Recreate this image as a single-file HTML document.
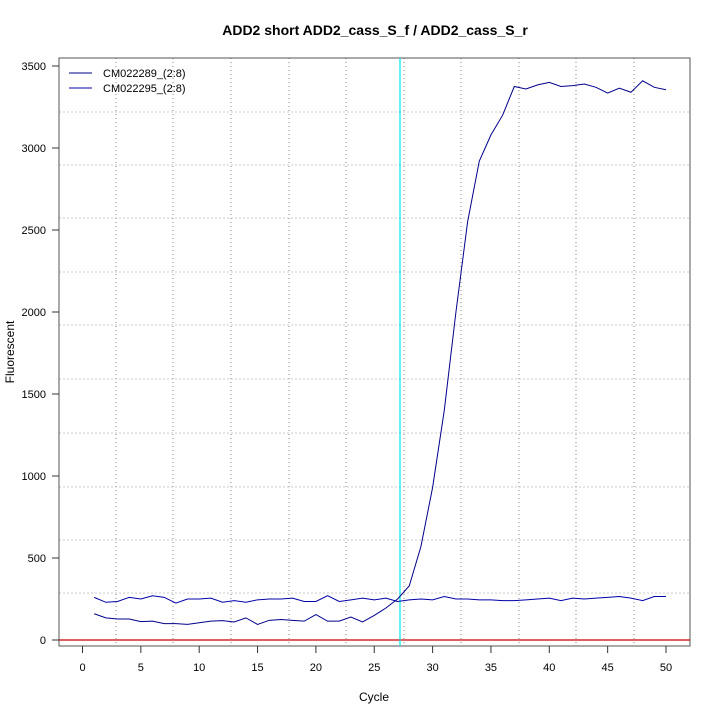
<!DOCTYPE html>
<html><head><meta charset="utf-8"><style>
body{margin:0;background:#fff}
svg text{font-family:"Liberation Sans",sans-serif;fill:#000}
</style></head><body>
<svg id="s" width="720" height="720" xmlns="http://www.w3.org/2000/svg">
<rect width="720" height="720" fill="#fff"/>
<text x="375" y="35" font-size="14" font-weight="bold" text-anchor="middle">ADD2 short ADD2_cass_S_f / ADD2_cass_S_r</text>
<text x="374" y="701" font-size="12" text-anchor="middle">Cycle</text>
<text x="14" y="352" font-size="12" text-anchor="middle" transform="rotate(-90 14 352)">Fluorescent</text>
<g id="g"></g>
</svg>
<script>
const g=document.getElementById('g');const NS='http://www.w3.org/2000/svg';
function el(t,a){const e=document.createElementNS(NS,t);for(const k in a)e.setAttribute(k,a[k]);g.appendChild(e);return e;}
const X=c=>82.5+c*11.67, Y=v=>640-v*0.164;
[116,173,231,289,346,404,461,519,576,634].forEach(x=>el('line',{x1:x,x2:x,y1:58,y2:646,stroke:'#666','stroke-dasharray':'1,3','stroke-width':0.8}));
[593,540,487,433,379,325,272,218,165,112].forEach(y=>el('line',{x1:59,x2:690,y1:y,y2:y,stroke:'#bbb','stroke-dasharray':'2,2','stroke-width':0.8}));
el('rect',{x:59,y:58,width:631,height:588,fill:'none',stroke:'#555','stroke-width':1});
for(let v=0;v<=3500;v+=500){const y=Y(v);el('line',{x1:52,x2:59,y1:y,y2:y,stroke:'#333'});const t=el('text',{x:46,y:y+4,'font-size':11,'text-anchor':'end'});t.textContent=v;}
for(let c=0;c<=50;c+=5){const x=X(c);el('line',{x1:x,x2:x,y1:646,y2:653,stroke:'#333'});const t=el('text',{x:x,y:671,'font-size':11,'text-anchor':'middle'});t.textContent=c;}
el('line',{x1:59,x2:690,y1:640,y2:640,stroke:'#c00','stroke-width':1.2});
el('line',{x1:400,x2:400,y1:58,y2:646,stroke:'#00e5ee','stroke-width':1.2});
const s1=[160,135,128,128,112,115,100,100,95,105,115,118,110,135,95,120,125,120,115,155,115,115,140,110,150,195,250,330,570,930,1400,2000,2550,2920,3080,3200,3375,3360,3385,3400,3375,3380,3390,3370,3335,3365,3340,3410,3370,3355];
const s2=[260,230,235,260,250,270,260,225,250,250,255,230,240,230,245,250,250,255,235,235,270,235,245,255,245,255,235,245,250,245,265,250,250,245,245,240,240,245,250,255,240,255,250,255,260,265,255,240,265,265];
[[s1,'#00008b'],[s2,'#0000aa']].forEach(([s,c])=>el('polyline',{points:s.map((v,i)=>X(i+1)+','+Y(v)).join(' '),fill:'none',stroke:c,'stroke-width':1}));
el('line',{x1:69,x2:92,y1:73,y2:73,stroke:'#00008b'});el('line',{x1:69,x2:92,y1:88,y2:88,stroke:'#0000aa'});
let t=el('text',{x:103,y:77,'font-size':11});t.textContent='CM022289_(2:8)';
t=el('text',{x:103,y:92,'font-size':11});t.textContent='CM022295_(2:8)';
</script>
</body></html>
